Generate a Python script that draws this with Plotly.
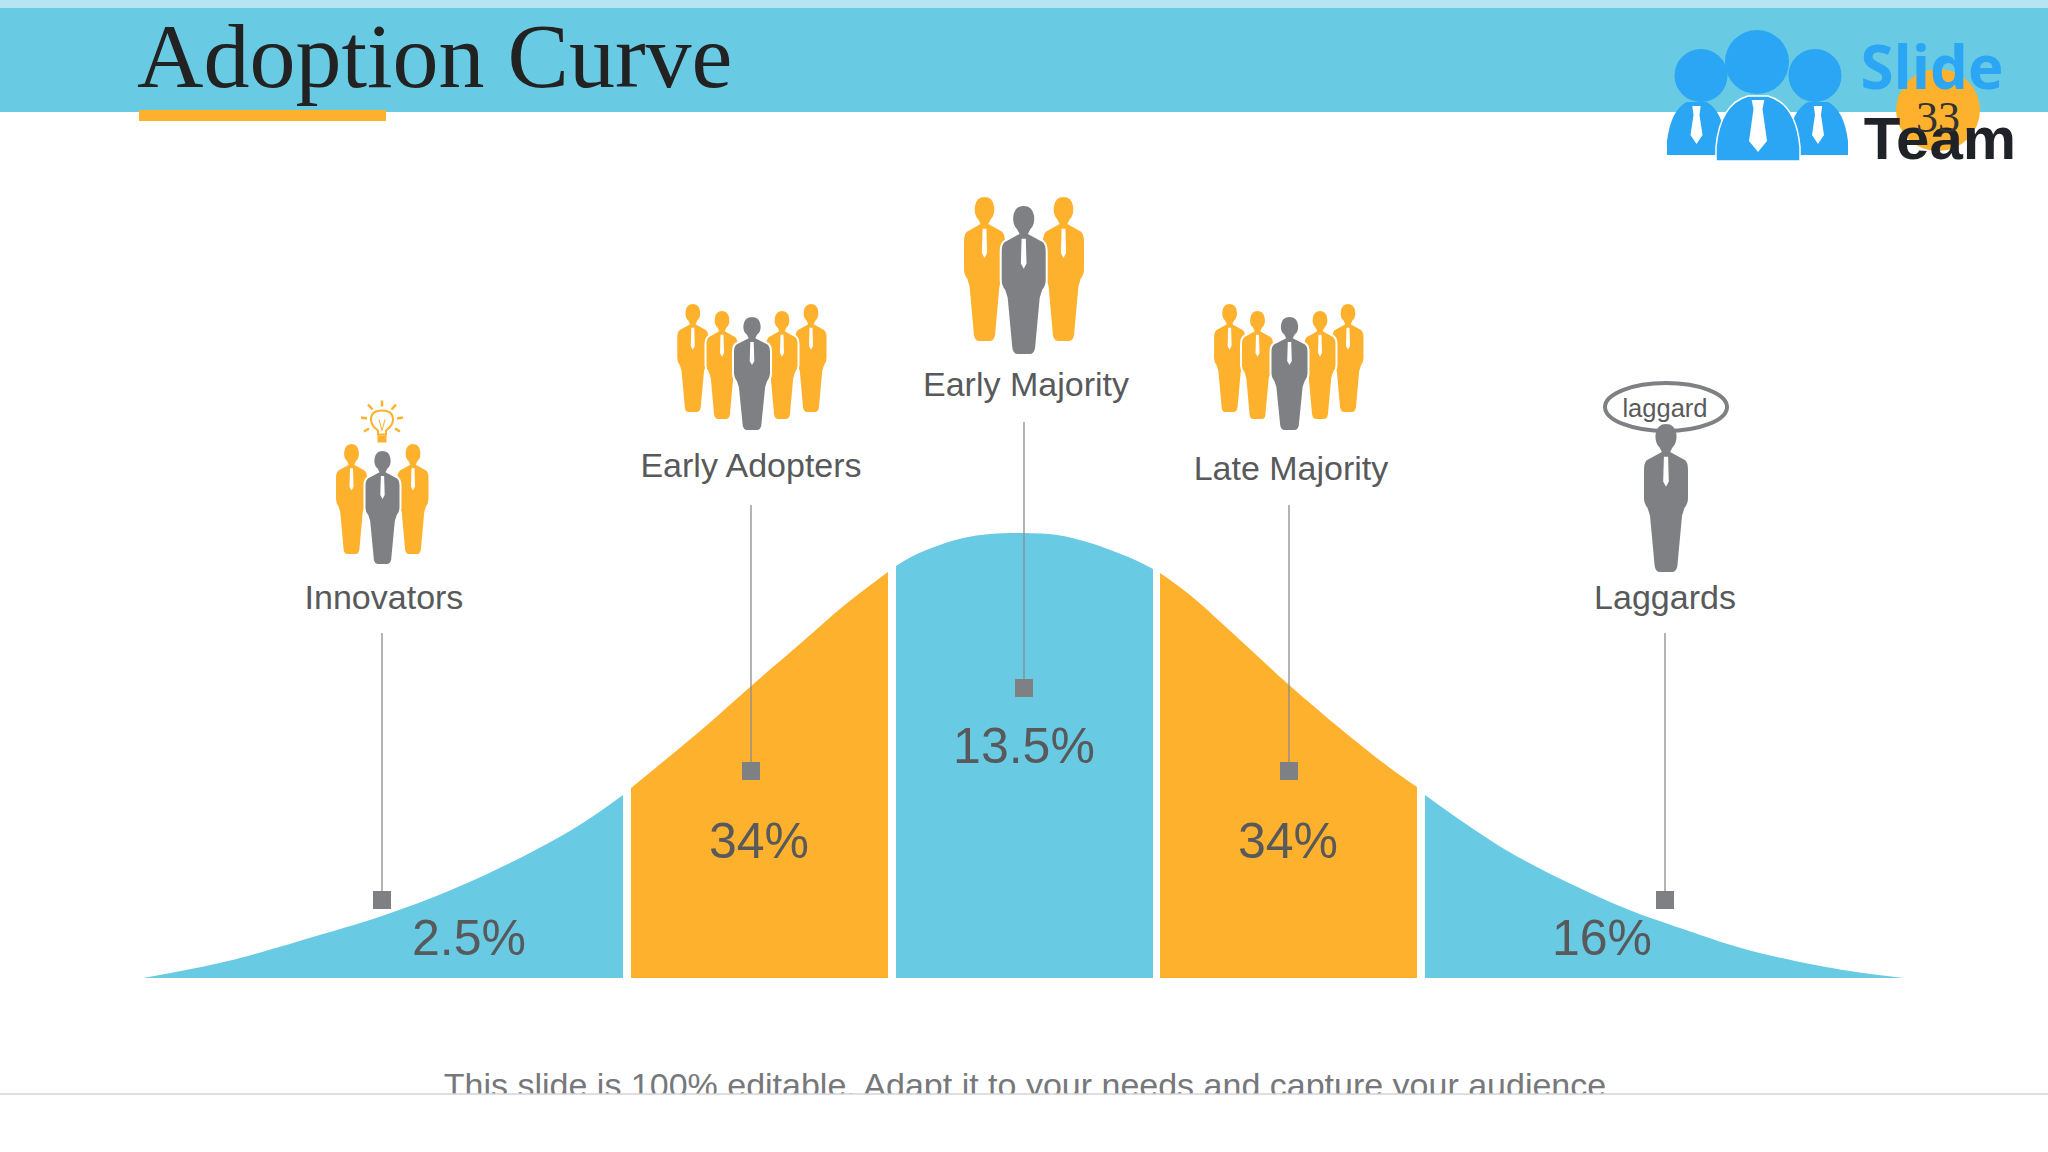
import plotly.graph_objects as go

# ---------- data ----------
title_text = "Adoption Curve"
footer_text = "This slide is 100% editable. Adapt it to your needs and capture your audience"
categories = ["Innovators", "Early Adopters", "Early Majority", "Late Majority", "Laggards"]
share_labels = ["2.5%", "34%", "13.5%", "34%", "16%"]
page_number = "33"
badge_text = "laggard"

# curve outline per segment: position along the axis and height above the baseline
seg1_x = [143, 228, 323, 382, 451, 514, 578, 623]
seg1_h = [0, 17, 44, 62, 88, 117, 152, 183]
seg2_x = [631, 706, 750, 801, 846, 888]
seg2_h = [190, 252, 291, 335, 374, 406]
seg3_x = [896, 913, 937, 963, 990, 1024, 1057, 1087, 1113, 1133, 1153]
seg3_h = [412, 422, 432, 440, 444, 445, 443, 436, 427, 419, 409]
seg4_x = [1160, 1190, 1239, 1288, 1342, 1390, 1417]
seg4_h = [405, 383, 339, 294, 248, 210, 191]
seg5_x = [1425, 1463, 1511, 1571, 1632, 1680, 1741, 1795, 1856, 1904]
seg5_h = [183, 156, 125, 94, 67, 50, 30, 17, 6, 0]

# drop-line anchors
stem_x = [382, 751, 1024, 1289, 1665]
stem_top = [633, 505, 422, 505, 633]
stem_end = [900, 771, 688, 771, 900]

# people in each group: centre, top, bottom, colour key (drawn in this order)
group_cx = [351.5, 413, 382.5,
            692.8, 811, 722, 782, 752,
            984.5, 1063.5, 1023.7,
            1229.6, 1348, 1257.5, 1320, 1289.5,
            1666]
group_top = [443, 443, 450,
             303, 303, 310, 310, 316,
             196, 196, 205,
             303, 303, 310, 310, 316,
             423]
group_bot = [555, 555, 565,
             413, 413, 420, 420, 431,
             342, 342, 355,
             413, 413, 420, 420, 431,
             573]
group_w = [33, 33, 36,
           33, 33, 33, 33, 38,
           43, 43, 46,
           33, 33, 33, 33, 38,
           46]
group_col = ["o", "o", "g", "o", "o", "o", "o", "g", "o", "o", "g", "o", "o", "o", "o", "g", "g"]

BLUE = "#69CAE4"
ORANGE = "#FDB12D"
GRAY = "#7F8083"
TEXT = "#58595B"
LOGO = "#2BA6F5"
BASE = 978

fig = go.Figure()
shapes = []


def person(cx, top, bot, w, col):
    h = bot - top
    X = lambda u: cx + u * w
    Y = lambda v: top + v * h
    P = lambda u, v: f"{X(u):.1f},{Y(v):.1f}"
    d = (
        f"M{P(-.12,.19)} L{P(-.16,.165)} C{P(-.3,.13)} {P(-.3,0)} {P(0,0)} C{P(.3,0)} {P(.3,.13)} {P(.16,.165)} "
        f"L{P(.12,.19)} L{P(.42,.24)} Q{P(.5,.26)} {P(.5,.31)} L{P(.5,.50)} Q{P(.5,.54)} {P(.42,.57)} L{P(.37,.62)} "
        f"L{P(.27,.95)} Q{P(.25,1)} {P(.13,1)} L{P(-.13,1)} Q{P(-.25,1)} {P(-.27,.95)} L{P(-.37,.62)} "
        f"L{P(-.42,.57)} Q{P(-.5,.54)} {P(-.5,.50)} L{P(-.5,.31)} Q{P(-.5,.26)} {P(-.42,.24)} Z"
    )
    shapes.append(dict(type="path", path=d, fillcolor=col, line=dict(color="white", width=2), layer="above"))
    tie = f"M{P(-.045,.225)} L{P(.045,.225)} L{P(.06,.39)} L{P(0,.425)} L{P(-.06,.39)} Z"
    shapes.append(dict(type="path", path=tie, fillcolor="white", line=dict(width=0), layer="above"))


def txt(x, y, s, size, color=TEXT, family="Liberation Sans", pos="middle center", weight=None):
    font = dict(size=size, color=color, family=family)
    if weight:
        font["weight"] = weight
    fig.add_trace(go.Scatter(x=[x], y=[y], yaxis="y2", mode="text", text=[s], textposition=pos, textfont=font,
                             hoverinfo="skip", showlegend=False, cliponaxis=False))


# header
shapes += [
    dict(type="rect", x0=0, x1=2048, y0=0, y1=8, fillcolor="#B5E5F3", line=dict(width=0), layer="below"),
    dict(type="rect", x0=0, x1=2048, y0=8, y1=112, fillcolor=BLUE, line=dict(width=0), layer="below"),
    dict(type="rect", x0=139, x1=386, y0=110, y1=121, fillcolor=ORANGE, line=dict(width=0), layer="below"),
    dict(type="circle", x0=1896, x1=1980, y0=69, y1=151, fillcolor=ORANGE, line=dict(width=0), layer="below"),
]

# curve segments, on a height axis whose zero is the curve baseline
for sx, sh, col in [(seg1_x, seg1_h, BLUE), (seg2_x, seg2_h, ORANGE), (seg3_x, seg3_h, BLUE),
                    (seg4_x, seg4_h, ORANGE), (seg5_x, seg5_h, BLUE)]:
    fig.add_trace(go.Scatter(x=sx, y=sh, yaxis="y", mode="lines", fill="tozeroy", fillcolor=col,
                             line=dict(width=0, shape="spline", smoothing=1, color=col),
                             hoverinfo="skip", showlegend=False))

# stems and end squares
for x, t, e in zip(stem_x, stem_top, stem_end):
    fig.add_trace(go.Scatter(x=[x, x], y=[t, e], yaxis="y2", mode="lines", line=dict(color="#8A8B8E", width=1.3),
                             hoverinfo="skip", showlegend=False))
fig.add_trace(go.Scatter(x=stem_x, y=stem_end, yaxis="y2", mode="markers",
                         marker=dict(symbol="square", size=18, color=GRAY, line=dict(width=0)),
                         hoverinfo="skip", showlegend=False))

# people
for cx, t, b, w, c in zip(group_cx, group_top, group_bot, group_w, group_col):
    person(cx, t, b, w, ORANGE if c == "o" else GRAY)

# light bulb
bx, by = 382, 421.5
shapes.append(dict(type="path",
                   path=f"M{bx-4},{by+9} Q{bx-11},{by+4} {bx-11},{by-2} Q{bx-11},{by-11} {bx},{by-11} "
                        f"Q{bx+11},{by-11} {bx+11},{by-2} Q{bx+11},{by+4} {bx+4},{by+9} L{bx+4},{by+13} L{bx-4},{by+13} Z",
                   fillcolor="white", line=dict(color=ORANGE, width=2), layer="above"))
shapes.append(dict(type="rect", x0=bx - 4.5, x1=bx + 4.5, y0=by + 14, y1=by + 21, fillcolor=ORANGE,
                   line=dict(width=0), layer="above"))
shapes.append(dict(type="path", path=f"M{bx-3},{by-2} L{bx},{by+9} L{bx+3},{by-2}", line=dict(color=ORANGE, width=1),
                   layer="above"))
for ux0, uy0, ux1, uy1 in [(0, -15, 0, -21), (9.5, -12, 14, -17), (15, -3, 21, -4), (13, 7, 18, 10),
                           (-9.5, -12, -14, -17), (-15, -3, -21, -4), (-13, 7, -18, 10)]:
    shapes.append(dict(type="line", x0=bx + ux0, y0=by + uy0, x1=bx + ux1, y1=by + uy1,
                       line=dict(color=ORANGE, width=2.5), layer="above"))

# laggard badge
shapes.append(dict(type="circle", x0=1605, x1=1727, y0=383, y1=431, line=dict(color=GRAY, width=4), layer="above"))

# logo
for hx, hy, r in [(1701, 75.5, 26.5), (1815, 75.5, 26.5), (1757, 62, 32)]:
    shapes.append(dict(type="circle", x0=hx - r, x1=hx + r, y0=hy - r, y1=hy + r, fillcolor=LOGO, line=dict(width=0),
                       layer="above"))
for x0, x1, y0, y1, big in [(1667, 1726, 102, 155, 0), (1788, 1848, 102, 155, 0), (1716, 1800, 96, 161, 1)]:
    m = (x0 + x1) / 2
    shapes.append(dict(type="path",
                       path=f"M{x0},{y1} L{x0},{y1-14} Q{x0+4},{y0+8} {m-10},{y0} L{m+10},{y0} Q{x1-4},{y0+8} {x1},{y1-14} L{x1},{y1} Z",
                       fillcolor=LOGO, line=dict(color="white", width=1.5 if big else 0), layer="above"))
    tw = 9 if big else 6
    shapes.append(dict(type="path",
                       path=f"M{m-tw*.7},{y0+4} L{m+tw*.7},{y0+4} L{m+tw*.5},{y0+13} L{m+tw},{y0 + (45 if big else 33)} "
                            f"L{m},{y0 + (56 if big else 42)} L{m-tw},{y0 + (45 if big else 33)} L{m-tw*.5},{y0+13} Z",
                       fillcolor="white", line=dict(width=0), layer="above"))

# footer mask and rule
shapes.append(dict(type="rect", x0=0, x1=2048, y0=1094, y1=1152, fillcolor="white", line=dict(width=0), layer="above"))
shapes.append(dict(type="line", x0=0, x1=2048, y0=1094, y1=1094, line=dict(color="#D3D3DB", width=1.5), layer="above"))

# all decorations use the pixel-like overlay axis
for s in shapes:
    s["yref"] = "y2"

# texts
txt(137, 64, title_text, 92, "#222222", "Liberation Serif", "middle right")
txt(1932, 74, "Slide", 60, LOGO, "Open Sans", weight=700)
txt(1940, 144, "Team", 60, "#1F2226", "Liberation Sans", weight=700)
txt(1938, 121, page_number, 44, "#333333", "Liberation Serif")

label_x = [384, 751, 1026, 1291, 1665]
label_y = [600, 468, 387, 471, 600]
for x, y, s in zip(label_x, label_y, categories):
    txt(x, y, s, 34)
share_x = [469, 759, 1024, 1288, 1602]
share_y = [942, 845, 750, 845, 942]
for x, y, s in zip(share_x, share_y, share_labels):
    txt(x, y, s, 50)
txt(1665, 411, badge_text, 25.5)
txt(1025, 1088, footer_text, 34, "#77787B")

fig.update_layout(
    width=2048, height=1152, margin=dict(l=0, r=0, t=0, b=0, pad=0),
    paper_bgcolor="white", plot_bgcolor="white", showlegend=False, shapes=shapes,
    xaxis=dict(range=[0, 2048], visible=False, fixedrange=True),
    yaxis=dict(range=[BASE - 1152, BASE], visible=False, fixedrange=True),
    yaxis2=dict(range=[1152, 0], overlaying="y", visible=False, fixedrange=True),
)
fig.write_html("out.html", config=dict(displayModeBar=False),
               post_script="document.body.style.margin='0';document.body.style.overflow='hidden';")
